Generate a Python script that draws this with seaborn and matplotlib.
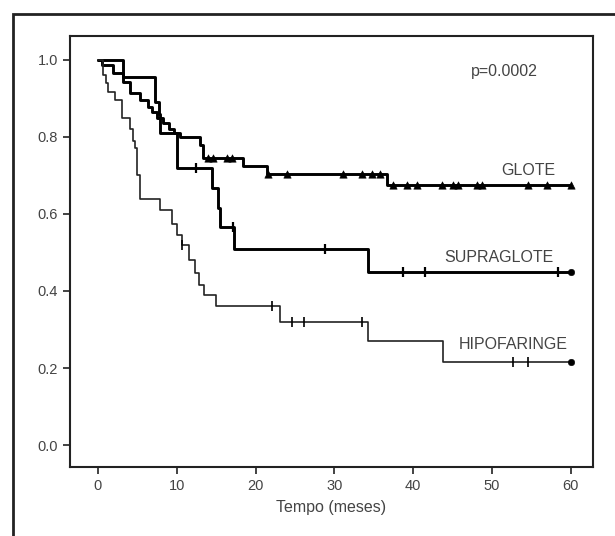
import numpy as np
import pandas as pd
import seaborn as sns
import matplotlib
matplotlib.use("Agg")
import matplotlib.pyplot as plt
from matplotlib.patches import Rectangle

# curvas de sobrevida (Kaplan-Meier)
glote_t = [0, 0.5, 1.9, 3.2, 4.1, 5.3, 6.3, 6.8, 7.5, 8.2, 9.0, 9.6, 10.4, 13.0, 13.3, 18.4, 21.4, 36.7, 60]
glote_s = [1.0, 0.987, 0.966, 0.943, 0.914, 0.896, 0.878, 0.865, 0.85, 0.835, 0.82, 0.81, 0.80, 0.78, 0.745, 0.725, 0.705, 0.675, 0.675]
glote_cens = [14.0, 14.6, 16.4, 17.0, 21.6, 24.0, 31.1, 33.5, 34.7, 35.8, 37.4, 39.2, 40.5,
              43.7, 45.0, 45.7, 48.1, 48.7, 54.6, 57.0, 60]

supra_t = [0, 3.2, 7.2, 7.7, 7.9, 10.0, 14.5, 15.2, 15.5, 17.3, 34.2, 60]
supra_s = [1.0, 0.955, 0.89, 0.86, 0.81, 0.72, 0.667, 0.615, 0.565, 0.51, 0.45, 0.45]
supra_cens = [12.4, 17.1, 28.8, 38.7, 41.5, 58.4]

hipo_t = [0, 0.6, 1.0, 1.3, 2.2, 3.0, 4.0, 4.4, 4.7, 5.0, 5.3, 7.9, 9.4, 10.0, 10.7,
          11.5, 12.3, 12.8, 13.4, 15.0, 23.1, 34.3, 43.8, 60]
hipo_s = [1.0, 0.96, 0.94, 0.917, 0.896, 0.85, 0.82, 0.79, 0.77, 0.70, 0.64, 0.61, 0.575,
          0.545, 0.52, 0.48, 0.447, 0.415, 0.39, 0.36, 0.32, 0.27, 0.215, 0.215]
hipo_cens = [10.7, 22.1, 24.6, 26.1, 33.5, 52.7, 54.6]

fim = 60  # ultimo ponto (bolinha no fim das curvas)


def cens_y(t, s, c):
    idx = np.searchsorted(t, c, side='right') - 1
    return np.array(s)[idx]


sns.set_style("white")
plt.rcParams['font.family'] = ['Liberation Sans', 'DejaVu Sans']

fig = plt.figure(figsize=(6.15, 5.36), dpi=100)
ax = fig.add_axes([70/615, 1-467/536, (593-70)/615, (467-36)/536])

# linhas em escada
sns.lineplot(x=glote_t, y=glote_s, drawstyle='steps-post', color='black', lw=2.1, ax=ax)
sns.lineplot(x=supra_t, y=supra_s, drawstyle='steps-post', color='black', lw=2.1, ax=ax)
sns.lineplot(x=hipo_t, y=hipo_s, drawstyle='steps-post', color='#222222', lw=1.2, ax=ax)

# censuras
sns.scatterplot(x=glote_cens, y=cens_y(glote_t, glote_s, glote_cens), marker='^',
                color='black', s=28, edgecolor='black', ax=ax, zorder=3)
sns.scatterplot(x=supra_cens, y=cens_y(supra_t, supra_s, supra_cens), marker='|',
                color='black', s=60, linewidth=1.6, ax=ax, zorder=3)
sns.scatterplot(x=hipo_cens, y=cens_y(hipo_t, hipo_s, hipo_cens), marker='|',
                color='black', s=50, linewidth=1.2, ax=ax, zorder=3)
sns.scatterplot(x=[fim, fim], y=[supra_s[-1], hipo_s[-1]], marker='o', color='black',
                s=22, edgecolor='black', ax=ax, zorder=3)

ax.set_xlim(-3.55, 62.8)
ax.set_ylim(-0.057, 1.062)
ax.set_xticks(range(0, 61, 10))
ax.set_yticks([0.0, 0.2, 0.4, 0.6, 0.8, 1.0])
ax.set_yticklabels(['0.0', '0.2', '0.4', '0.6', '0.8', '1.0'])
ax.tick_params(direction='out', length=5, width=1.2, colors='#222222',
               labelsize=10.5, labelcolor='#444444', bottom=True, left=True)
for sp in ax.spines.values():
    sp.set_visible(True)
    sp.set_color('#222222')
    sp.set_linewidth(1.5)
ax.set_xlabel('Tempo (meses)', fontsize=11.5, color='#444444', labelpad=5)
ax.set_ylabel('')

txt = dict(color='#444444', fontsize=11.5, ha='center', va='center')
ax.text(51.6, 0.969, 'p=0.0002', **txt)
ax.text(54.6, 0.712, 'GLOTE', **txt)
ax.text(50.8, 0.488, 'SUPRAGLOTE', **txt)
ax.text(52.7, 0.262, 'HIPOFARINGE', **txt)

# moldura externa
fig.add_artist(Rectangle((13/615, -0.5), 2, 0.5 + 1 - 14/536, transform=fig.transFigure,
                         fill=False, lw=2, ec='#222222', clip_on=False))

fig.savefig('out.png', dpi=100)
